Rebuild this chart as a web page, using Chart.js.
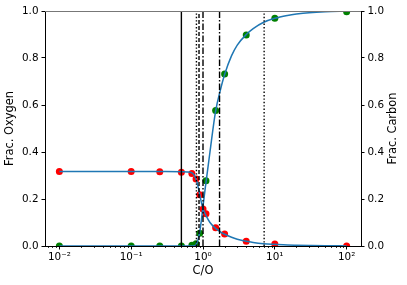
<!DOCTYPE html>
<html><head><meta charset="utf-8">
<script src="https://cdn.jsdelivr.net/npm/chart.js@4.4.0/dist/chart.umd.min.js"></script>
<style>html,body{margin:0;padding:0;background:#fff;} canvas{display:block;}</style>
</head><body>
<canvas id="c" width="407" height="285"></canvas>
<script>
// ---- data ----
const oxygenCO = [0.01, 0.1, 0.25, 0.5, 0.7, 0.8, 0.9, 1.0, 1.1, 1.5, 2, 4, 10, 100];
const fracOxygen = [0.317, 0.317, 0.316, 0.314, 0.308, 0.285, 0.218, 0.157, 0.137, 0.078, 0.051, 0.020, 0.008, 0.0];
const carbonCO = [0.01, 0.1, 0.25, 0.5, 0.7, 0.8, 0.9, 1.1, 1.5, 2, 4, 10, 100];
const fracCarbon = [0, 0, 0, 0, 0.003, 0.01, 0.054, 0.278, 0.577, 0.732, 0.898, 0.969, 0.997];
const fitCO = [0.01, 0.1, 0.3, 0.5, 0.6, 0.7, 0.75, 0.8, 0.85, 0.9, 0.95, 1.0, 1.1, 1.25, 1.5, 1.75, 2, 2.5, 3, 4, 5, 7, 10, 15, 20, 30, 50, 100];
const fitOxygen = [0.317, 0.317, 0.317, 0.316, 0.315, 0.311, 0.303, 0.285, 0.255, 0.22, 0.185, 0.16, 0.13, 0.1, 0.075, 0.06, 0.05, 0.037, 0.029, 0.02, 0.015, 0.01, 0.007, 0.004, 0.003, 0.002, 0.001, 0.0005];
const fitCarbon = [0, 0, 0, 0, 0, 0, 0.001, 0.006, 0.025, 0.06, 0.11, 0.17, 0.27, 0.4, 0.575, 0.665, 0.73, 0.81, 0.855, 0.9, 0.925, 0.952, 0.969, 0.981, 0.987, 0.993, 0.997, 0.999];
const markerCO = [0.5, 0.81, 0.88, 1.0, 1.7, 7.1];
const xTickValues = [0.01, 0.1, 1, 10, 100];
const xTickLabels = ['10\u207B\u00B2', '10\u207B\u00B9', '10\u2070', '10\u00B9', '10\u00B2'];

// ---- styles ----
const markerDash = [[], [1.4, 2], [4, 2], [6.5, 2, 1.5, 2], [6.5, 2, 1.5, 2], [1.4, 2]];
const FONT = 'DejaVu Sans';
Chart.defaults.font.family = FONT;
Chart.defaults.color = '#000';

const pts = (xs, ys) => xs.map((x, i) => ({x: x, y: ys[i]}));

const datasets = [];
markerCO.forEach((v, i) => {
  datasets.push({
    data: [{x: v, y: 0}, {x: v, y: 1}], yAxisID: 'y', showLine: true, pointRadius: 0,
    borderColor: '#000', borderWidth: 1.4, borderDash: markerDash[i], order: 0
  });
});
datasets.push({data: pts(fitCO, fitOxygen), yAxisID: 'y', showLine: true, pointRadius: 0,
  borderColor: '#1f77b4', borderWidth: 1.5, cubicInterpolationMode: 'monotone', order: 1});
datasets.push({data: pts(fitCO, fitCarbon), yAxisID: 'y2', showLine: true, pointRadius: 0,
  borderColor: '#1f77b4', borderWidth: 1.5, cubicInterpolationMode: 'monotone', order: 1});
datasets.push({data: pts(oxygenCO, fracOxygen), yAxisID: 'y', showLine: false, pointRadius: 3.5,
  pointBackgroundColor: '#ff0000', pointBorderWidth: 0, borderColor: '#ff0000', order: 2});
datasets.push({data: pts(carbonCO, fracCarbon), yAxisID: 'y2', showLine: false, pointRadius: 3.5,
  pointBackgroundColor: '#008000', pointBorderWidth: 0, borderColor: '#008000', order: 3});

const extras = {
  id: 'extras',
  afterDraw(chart) {
    const ctx = chart.ctx, a = chart.chartArea, xs = chart.scales.x;
    ctx.save();
    // top spine
    ctx.strokeStyle = '#777'; ctx.lineWidth = 1.2;
    ctx.beginPath(); ctx.moveTo(a.left, a.top + 0.5); ctx.lineTo(a.right, a.top + 0.5); ctx.stroke();
    // minor log ticks
    ctx.strokeStyle = '#000'; ctx.lineWidth = 0.8;
    for (let d = -3; d <= 2; d++) {
      for (let k = 2; k <= 9; k++) {
        const v = k * Math.pow(10, d);
        if (v < xs.min || v > xs.max) continue;
        const px = Math.round(xs.getPixelForValue(v)) + 0.5;
        ctx.beginPath(); ctx.moveTo(px, a.bottom); ctx.lineTo(px, a.bottom + 2); ctx.stroke();
      }
    }
    // right axis title (reads bottom-to-top)
    ctx.translate(393, (a.top + a.bottom) / 2);
    ctx.rotate(-Math.PI / 2);
    ctx.font = '11.4px "' + FONT + '"';
    ctx.fillStyle = '#000'; ctx.textAlign = 'center'; ctx.textBaseline = 'middle';
    ctx.fillText('Frac. Carbon', 0, 0);
    ctx.restore();
  }
};

new Chart(document.getElementById('c'), {
  type: 'scatter',
  data: {datasets: datasets},
  options: {
    responsive: false, animation: false,
    layout: {padding: {top: 11, left: 0, right: 0, bottom: 0}},
    plugins: {legend: {display: false}, tooltip: {enabled: false}},
    scales: {
      x: {
        type: 'logarithmic', position: 'bottom',
        min: Math.pow(10, -2.2), max: Math.pow(10, 2.2),
        afterBuildTicks: s => { s.ticks = xTickValues.map(v => ({value: v})); },
        afterFit: s => { s.height = 39; },
        ticks: {autoSkip: false, maxRotation: 0, padding: 2, font: {size: 10.4},
          callback: (v) => { const i = xTickValues.findIndex(t => Math.abs(t - v) / t < 1e-6); return i >= 0 ? xTickLabels[i] : ''; }},
        grid: {drawOnChartArea: false, drawTicks: true, tickLength: 3.5, color: '#000', lineWidth: 1},
        border: {display: true, color: '#000', width: 1},
        title: {display: true, text: 'C/O', font: {size: 11.4}, padding: {top: 0, bottom: 7}}
      },
      y: {
        position: 'left', min: 0, max: 1,
        afterFit: s => { s.width = 45; },
        ticks: {stepSize: 0.2, padding: 3, font: {size: 10.4}, callback: v => v.toFixed(1)},
        grid: {drawOnChartArea: false, drawTicks: true, tickLength: 3.5, color: '#000', lineWidth: 1},
        border: {display: true, color: '#000', width: 1},
        title: {display: true, text: 'Frac. Oxygen', font: {size: 11.4}, padding: {top: 3.5, bottom: 0}}
      },
      y2: {
        position: 'right', min: 0, max: 1,
        afterFit: s => { s.width = 46; },
        ticks: {stepSize: 0.2, padding: 3, font: {size: 10.4}, callback: v => v.toFixed(1)},
        grid: {drawOnChartArea: false, drawTicks: true, tickLength: 3.5, color: '#000', lineWidth: 1},
        border: {display: true, color: '#000', width: 1},
        title: {display: false}
      }
    }
  },
  plugins: [extras]
});
</script>
</body></html>
